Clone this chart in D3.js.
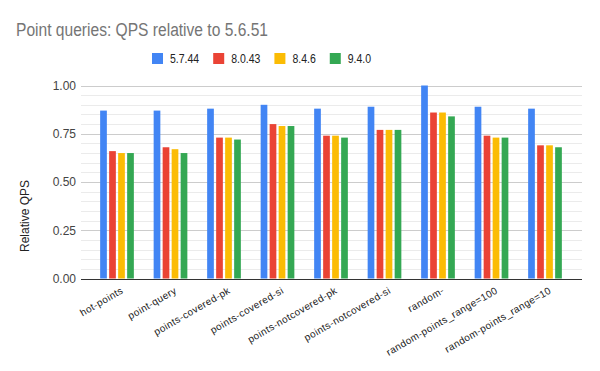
<!DOCTYPE html>
<html>
<head>
<meta charset="utf-8">
<script src="https://cdn.jsdelivr.net/npm/d3@7"></script>
<style>
  html, body { margin: 0; padding: 0; background: #fff; }
  svg { display: block; }
  text { font-family: Arial, "Liberation Sans", sans-serif; }
</style>
</head>
<body>
<svg id="chart" width="600" height="371"></svg>
<script>
const categories = ["hot-points", "point-query", "points-covered-pk", "points-covered-si",
  "points-notcovered-pk", "points-notcovered-si", "random-",
  "random-points_range=100", "random-points_range=10"];
const seriesNames = ["5.7.44", "8.0.43", "8.4.6", "9.4.0"];
const v5744 = [0.87, 0.87, 0.88, 0.90, 0.88, 0.89, 1.00, 0.89, 0.88];
const v8043 = [0.66, 0.68, 0.73, 0.80, 0.74, 0.77, 0.86, 0.74, 0.69];
const v846  = [0.65, 0.67, 0.73, 0.79, 0.74, 0.77, 0.86, 0.73, 0.69];
const v940  = [0.65, 0.65, 0.72, 0.79, 0.73, 0.77, 0.84, 0.73, 0.68];
const seriesValues = [v5744, v8043, v846, v940];
const colors = ["#4285F4", "#EA4335", "#FBBC04", "#34A853"];
const yTicks = [0, 0.25, 0.5, 0.75, 1.0];
const yMinorTicks = d3.range(0, 1.0001, 0.05);

const svg = d3.select("#chart");
const gridLeft = 81, gridRight = 582;

const y = d3.scaleLinear().domain([0, 1]).range([278.5, 85.5]);
const x0 = d3.scaleBand().domain(categories).range([90.25, 571.75])
  .paddingInner(0.37).paddingOuter(0.185);
const x1 = d3.scaleBand().domain(seriesNames).range([0, x0.bandwidth()])
  .paddingInner(0.255).paddingOuter(0);
const color = d3.scaleOrdinal().domain(seriesNames).range(colors);

// Title
svg.append("text").attr("x", 16).attr("y", 36)
  .attr("font-size", 18).attr("fill", "#757575")
  .attr("textLength", 252).attr("lengthAdjust", "spacingAndGlyphs")
  .text("Point queries: QPS relative to 5.6.51");

// Legend
const legend = svg.append("g");
let lx = 152;
seriesNames.forEach((s, i) => {
  legend.append("rect").attr("x", lx).attr("y", 53).attr("width", 11).attr("height", 11)
    .attr("fill", color(s));
  const t = legend.append("text").attr("x", lx + 18).attr("y", 63)
    .attr("font-size", 12.5).attr("fill", "#222").text(s);
  const w = t.node().getComputedTextLength() * 0.84;
  t.attr("textLength", w).attr("lengthAdjust", "spacingAndGlyphs");
  lx = lx + 18 + w + 14;
});

// Minor gridlines
svg.append("g").selectAll("line").data(yMinorTicks).join("line")
  .attr("x1", gridLeft).attr("x2", gridRight)
  .attr("y1", d => Math.round(y(d)) + 0.5).attr("y2", d => Math.round(y(d)) + 0.5)
  .attr("stroke", "#ebebeb").attr("stroke-width", 1);

// Major gridlines
svg.append("g").selectAll("line").data(yTicks.filter(d => d > 0)).join("line")
  .attr("x1", gridLeft).attr("x2", gridRight)
  .attr("y1", d => Math.round(y(d)) + 0.5).attr("y2", d => Math.round(y(d)) + 0.5)
  .attr("stroke", "#cccccc").attr("stroke-width", 1);

// Y axis labels
const yAxis = d3.axisLeft(y).tickValues(yTicks).tickFormat(d3.format(".2f")).tickSize(0).tickPadding(0);
const yg = svg.append("g").attr("transform", `translate(76,0)`).call(yAxis);
yg.select(".domain").remove();
yg.selectAll("text").attr("font-size", 12).attr("fill", "#444")
  .attr("font-family", "Arial, 'Liberation Sans', sans-serif");

// Y title
svg.append("text").attr("transform", "translate(29,216) rotate(-90)")
  .attr("text-anchor", "middle").attr("font-size", 12).attr("fill", "#222")
  .text("Relative QPS");

// Bars
const groups = svg.append("g").selectAll("g").data(categories).join("g")
  .attr("transform", d => `translate(${x0(d)},0)`);
groups.selectAll("rect")
  .data((c, ci) => seriesNames.map((s, si) => ({ s, v: seriesValues[si][ci] })))
  .join("rect")
  .attr("x", d => x1(d.s)).attr("width", x1.bandwidth())
  .attr("y", d => y(d.v)).attr("height", d => y(0) - y(d.v))
  .attr("fill", d => color(d.s));

// Baseline
svg.append("line").attr("x1", gridLeft).attr("x2", gridRight)
  .attr("y1", Math.round(y(0)) + 0.5).attr("y2", Math.round(y(0)) + 0.5)
  .attr("stroke", "#333").attr("stroke-width", 1);

// X axis labels
const xAxis = d3.axisBottom(x0).tickSize(0).tickPadding(0);
const xg = svg.append("g").attr("transform", `translate(0,${y(0)})`).call(xAxis);
xg.select(".domain").remove();
xg.selectAll(".tick text")
  .attr("font-size", 10).attr("fill", "#222").attr("letter-spacing", "0.4px")
  .attr("font-family", "Arial, 'Liberation Sans', sans-serif")
  .attr("text-anchor", "end").attr("dy", 0).attr("y", 0)
  .attr("transform", "translate(7,14) rotate(-30)");
</script>
</body>
</html>
